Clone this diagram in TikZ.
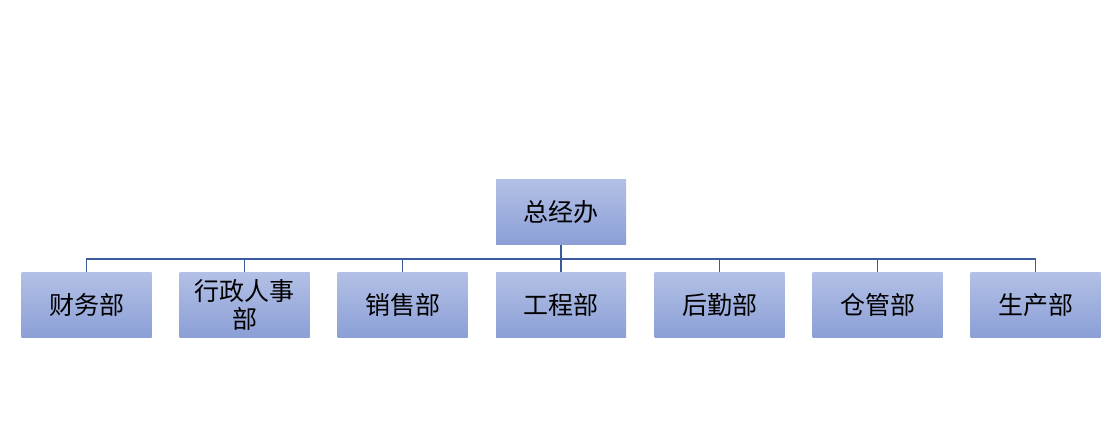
\documentclass[tikz,border=0pt]{standalone}
\usepackage{fontspec}
\newfontfamily\cjk{Noto Sans CJK SC}[FakeBold=0]
\definecolor{boxtop}{HTML}{B3C0E6}
\definecolor{boxbot}{HTML}{8B9FD6}
\definecolor{linec}{HTML}{3A5A9C}
\tikzset{
  orgbox/.style={rectangle, minimum width=130pt, minimum height=65pt, inner sep=2pt,
    top color=boxtop, bottom color=boxbot, draw=none, font=\cjk\fontsize{25}{28}\selectfont,
    align=center, text width=122pt},
  conn/.style={draw=linec, line width=1.8pt}
}
\begin{document}
\begin{tikzpicture}[x=1pt,y=-1pt]
\useasboundingbox (0,0) rectangle (1110,432);
\node[orgbox] (top) at (561,212) {总经办};
\node[orgbox] (b1) at (86.5,305) {财务部};
\node[orgbox] (b2) at (244.5,305) {行政人事\\部};
\node[orgbox] (b3) at (402.5,305) {销售部};
\node[orgbox] (b4) at (561,305) {工程部};
\node[orgbox] (b5) at (719.5,305) {后勤部};
\node[orgbox] (b6) at (877.5,305) {仓管部};
\node[orgbox] (b7) at (1035.5,305) {生产部};
\coordinate (bus) at (561,259);
\draw[conn] (top.south) -- (bus);
\draw[conn] (b1.north) |- (bus) -| (b7.north);
\foreach \n in {b2,b3,b4,b5,b6} \draw[conn] (\n.north) -- (\n.north |- bus);
\end{tikzpicture}
\end{document}
